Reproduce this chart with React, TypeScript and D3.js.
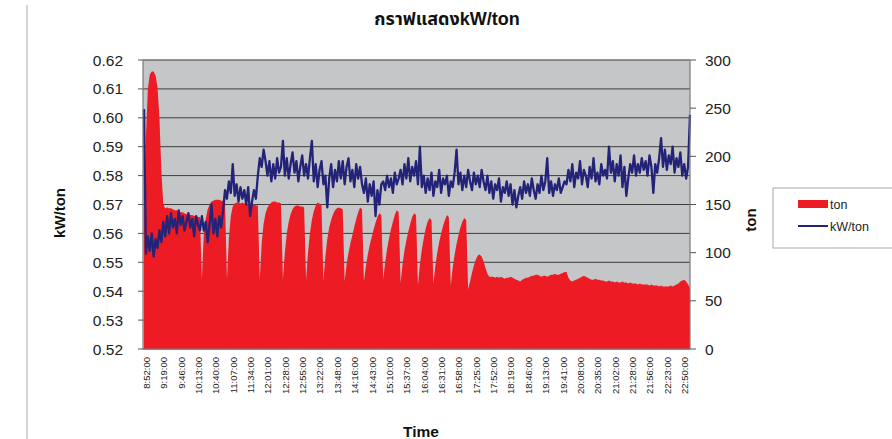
import React from "react";
import * as d3 from "d3";

const TIME_LABELS = [
  "8:52:00", "9:19:00", "9:46:00", "10:13:00", "10:40:00", "11:07:00", "11:34:00", "12:01:00",
  "12:28:00", "12:55:00", "13:22:00", "13:48:00", "14:16:00", "14:43:00", "15:10:00", "15:37:00",
  "16:04:00", "16:31:00", "16:58:00", "17:25:00", "17:52:00", "18:19:00", "18:46:00", "19:13:00",
  "19:41:00", "20:08:00", "20:35:00", "21:02:00", "21:28:00", "21:56:00", "22:23:00", "22:50:00",
];

// kW/ton, one reading every 3 rows
const KW_TON = [
  0.603,
  0.553, 0.559, 0.554, 0.560, 0.552, 0.558, 0.555, 0.561,
  0.557, 0.564, 0.559, 0.566, 0.560,
  0.567, 0.562, 0.565, 0.560, 0.568, 0.563, 0.566, 0.561, 0.564, 0.567, 0.562, 0.565, 0.559, 0.566, 0.563, 0.561,
  0.566, 0.561, 0.564, 0.557, 0.563, 0.570, 0.560, 0.565, 0.559, 0.566, 0.562,
  0.568, 0.575, 0.572, 0.578, 0.574,
  0.584,
  0.573, 0.577, 0.571, 0.576, 0.572, 0.575, 0.570, 0.576, 0.566, 0.571, 0.575, 0.572,
  0.580, 0.586, 0.583, 0.589, 0.585,
  0.580, 0.585, 0.578, 0.584, 0.579, 0.586, 0.581, 0.583,
  0.592,
  0.580, 0.586, 0.579, 0.584, 0.588, 0.581, 0.585, 0.578, 0.583, 0.587, 0.580, 0.584, 0.579, 0.586, 0.592,
  0.578, 0.584, 0.576, 0.582, 0.585, 0.577, 0.580, 0.569, 0.579, 0.584, 0.576, 0.582, 0.578, 0.585,
  0.579, 0.585, 0.577, 0.583, 0.586, 0.578, 0.582, 0.576, 0.584, 0.579, 0.583, 0.577,
  0.574, 0.579, 0.571, 0.577, 0.573, 0.578, 0.566, 0.575, 0.570, 0.577,
  0.578, 0.575, 0.580, 0.576, 0.579, 0.574, 0.581, 0.577, 0.579,
  0.582, 0.577, 0.584, 0.579, 0.586, 0.578, 0.583, 0.580, 0.585, 0.577, 0.590,
  0.576, 0.580, 0.574, 0.579, 0.575, 0.581, 0.573, 0.578, 0.576, 0.582, 0.574, 0.579, 0.577, 0.580, 0.573, 0.578, 0.576, 0.581,
  0.589,
  0.577, 0.581, 0.575, 0.580, 0.576, 0.582, 0.578, 0.575, 0.581, 0.577, 0.580, 0.576, 0.582, 0.578, 0.575, 0.580,
  0.574, 0.578, 0.572, 0.577, 0.575, 0.579, 0.571, 0.576, 0.574, 0.578, 0.573, 0.577, 0.570, 0.575, 0.569, 0.573, 0.576, 0.572, 0.578, 0.574,
  0.577, 0.573, 0.579, 0.575, 0.572, 0.577, 0.574, 0.580, 0.575, 0.578, 0.586, 0.574, 0.578, 0.573, 0.577, 0.575, 0.579, 0.574, 0.576, 0.578,
  0.577, 0.582, 0.578, 0.584, 0.576, 0.581, 0.579, 0.585, 0.577, 0.582, 0.580, 0.576, 0.583, 0.579, 0.586, 0.578, 0.581, 0.577, 0.584, 0.580, 0.582,
  0.579, 0.590, 0.581, 0.585, 0.578, 0.584, 0.580, 0.587, 0.576, 0.583, 0.573, 0.579, 0.584, 0.581, 0.587, 0.580, 0.584,
  0.581, 0.586, 0.582, 0.585, 0.580, 0.587, 0.583, 0.574, 0.584, 0.581, 0.586,
  0.593,
  0.583, 0.589, 0.582, 0.587, 0.584, 0.590, 0.581, 0.586, 0.583, 0.588,
  0.580, 0.584, 0.579, 0.583,
  0.601,
];

// ton, one reading every 3 rows
const TON = [
  130, 220, 270, 285, 288, 288, 284, 272, 240, 185, 150, 146,
  147, 146, 146, 145, 144, 144, 143, 142, 142, 141, 140, 140, 139, 139, 138, 138, 137, 137,
  72, 120, 135, 145, 150, 153, 154, 155, 155, 155, 154, 154, 153,
  72, 115, 138, 148, 151, 152, 152, 151, 152, 151, 151, 150, 151, 150, 150, 149, 149,
  71, 110, 130, 141, 147, 150, 152, 153, 153, 152, 152, 151,
  72, 100, 120, 132, 140, 145, 148, 149, 149, 148, 148, 147,
  71, 100, 120, 134, 143, 149, 152, 151, 149,
  70, 96, 114, 126, 134, 140, 144, 146, 147, 146, 145,
  70, 88, 100, 110, 118, 127, 135, 142, 147, 145,
  70, 86, 98, 108, 116, 124, 131, 137, 141, 139,
  72, 90, 104, 115, 124, 132, 139, 144, 142,
  68, 88, 102, 113, 122, 130, 137, 141, 139,
  66, 88, 103, 115, 125, 132, 136, 134,
  68, 86, 100, 111, 120, 128, 134, 139, 137,
  66, 84, 98, 109, 118, 126, 132, 136, 134,
  62, 70, 79, 87, 93, 97, 98, 96, 91, 84, 78, 75,
  75, 75, 74, 75, 74, 75, 74, 73, 74, 74, 75, 74, 73, 72, 71, 70, 72, 73, 74, 74,
  75, 76, 76, 77, 77, 76, 75, 76, 76, 75, 76, 77, 77, 78, 77, 77, 78, 79, 80, 80,
  74, 71, 70, 71, 72, 73, 74, 75, 76, 75, 74, 73, 72, 72, 73, 72, 72, 71, 71, 70,
  70, 71, 70, 70, 69, 70, 69, 69, 70, 69, 69, 68, 69, 68, 68, 68, 67, 68, 67, 67,
  67, 67, 66, 67, 66, 66, 66, 65, 66, 65, 65, 65, 65, 66, 65, 66, 67, 68, 70, 71, 72, 70, 67, 63,
];

const KW_TICKS = [0.52, 0.53, 0.54, 0.55, 0.56, 0.57, 0.58, 0.59, 0.6, 0.61, 0.62];
const TON_TICKS = [0, 50, 100, 150, 200, 250, 300];
const ROWS_PER_SAMPLE = 3;
const ROWS_PER_LABEL = 27;
const TOTAL_ROWS = 850;

const FONT = "'Liberation Sans', Arial, 'Noto Sans Thai', 'DejaVu Sans', sans-serif";

export default function App() {
  const W = 892;
  const H = 439;
  const left = 143;
  const right = 690;
  const top = 60;
  const bottom = 349;

  const x = d3.scaleLinear().domain([0, TOTAL_ROWS - 1]).range([left + 1, right]);
  const yL = d3.scaleLinear().domain([0.52, 0.62]).range([bottom, top]);
  const yR = d3.scaleLinear().domain([0, 300]).range([bottom, top]);

  const area = d3
    .area<number>()
    .x((_, i) => x(i * ROWS_PER_SAMPLE))
    .y0(yR(0))
    .y1((d) => yR(d));
  const line = d3
    .line<number>()
    .x((_, i) => x(i * ROWS_PER_SAMPLE))
    .y((d) => yL(d));

  return (
    <svg
      width={W}
      height={H}
      viewBox={`0 0 ${W} ${H}`}
      style={{ position: "absolute", left: 0, top: 0, background: "#fff" }}
      fontFamily={FONT}
    >
      <line x1={27} x2={27} y1={5} y2={H} stroke="#b8b8b8" strokeWidth={1.2} />

      <text x={447} y={25} textAnchor="middle" fontSize={18} fontWeight="bold" fill="#111">
        กราฟแสดงkW/ton
      </text>

      <rect x={left} y={top} width={right - left} height={bottom - top} fill="#c5c6c8" />
      {KW_TICKS.map((t) => (
        <line key={t} x1={left} x2={right} y1={yL(t)} y2={yL(t)} stroke="#3c3c3c" strokeWidth={1} />
      ))}

      <path d={area(TON) || ""} fill="#ed1c24" />
      <path d={line(KW_TON) || ""} fill="none" stroke="#232378" strokeWidth={2.3} strokeLinejoin="round" />

      <line x1={left} x2={left} y1={top} y2={bottom} stroke="#7a7a7a" strokeWidth={1.2} />
      <line x1={right} x2={right} y1={top} y2={bottom} stroke="#7a7a7a" strokeWidth={1.2} />
      <line x1={left} x2={right} y1={bottom} y2={bottom} stroke="#7a7a7a" strokeWidth={1.2} />
      <line x1={left} x2={right} y1={top} y2={top} stroke="#8a8a8a" strokeWidth={1} />

      {KW_TICKS.map((t) => (
        <g key={"l" + t}>
          <line x1={left - 5} x2={left} y1={yL(t)} y2={yL(t)} stroke="#555" />
          <text x={123} y={yL(t)} dy="0.36em" textAnchor="end" fontSize={15.5} fill="#222">
            {t.toFixed(2)}
          </text>
        </g>
      ))}
      {TON_TICKS.map((t) => (
        <g key={"r" + t}>
          <line x1={right} x2={right + 6} y1={yR(t)} y2={yR(t)} stroke="#555" />
          <text x={705} y={yR(t)} dy="0.36em" textAnchor="start" fontSize={15.5} fill="#222">
            {t}
          </text>
        </g>
      ))}

      {TIME_LABELS.map((lab, i) => (
        <text
          key={lab}
          transform={`translate(${x(i * ROWS_PER_LABEL) + 2.5},357) rotate(-90)`}
          dy="0.35em"
          textAnchor="end"
          fontSize={9.5}
          fill="#222"
        >
          {lab}
        </text>
      ))}

      <text transform="translate(60,213) rotate(-90)" dy="0.35em" textAnchor="middle" fontSize={15} fontWeight="bold" fill="#111">
        kW/ton
      </text>
      <text transform="translate(751,220) rotate(-90)" dy="0.35em" textAnchor="middle" fontSize={15} fontWeight="bold" fill="#111">
        ton
      </text>
      <text x={421} y={437} textAnchor="middle" fontSize={15.5} fontWeight="bold" fill="#111">
        Time
      </text>

      <rect x={773} y={188} width={140} height={60} fill="#fff" stroke="#a8a8a8" strokeWidth={1} />
      <rect x={798} y={200} width={30} height={8} fill="#ed1c24" />
      <text x={830} y={208.5} fontSize={12.5} fill="#222">ton</text>
      <line x1={798} x2={828} y1={226} y2={226} stroke="#232378" strokeWidth={2} />
      <text x={830} y={230.5} fontSize={12.5} fill="#222">kW/ton</text>
    </svg>
  );
}
